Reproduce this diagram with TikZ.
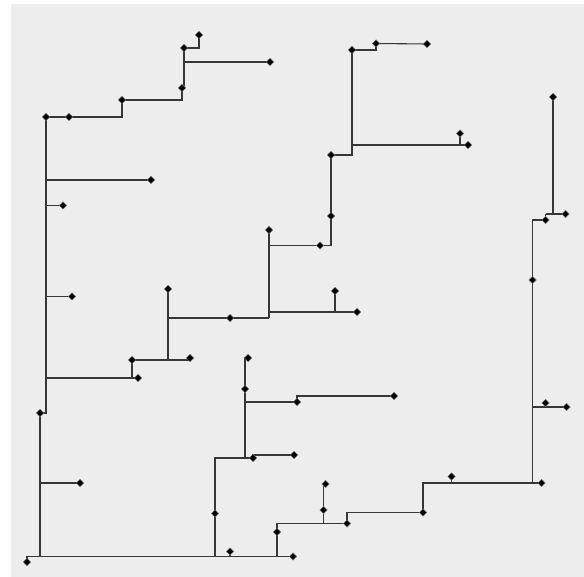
\documentclass[tikz,border=0pt]{standalone}
\usetikzlibrary{shapes.geometric}
\definecolor{bgc}{RGB}{237,237,237}
\definecolor{lnc}{RGB}{55,55,55}
\pgfdeclarelayer{back}
\pgfsetlayers{back,main}
\begin{document}
\begin{tikzpicture}[x=1pt,y=-1pt,
  pt/.style={diamond,fill=black,draw=black!55,line width=0.5pt,inner sep=0pt,minimum size=7.5pt},
  ed/.style={draw=lnc,line width=1.1pt}]
\useasboundingbox (0,0) rectangle (584,577);
\node[pt] (p1) at (199,35) {};
\node[pt] (p2) at (184,48) {};
\node[pt] (p3) at (270,62) {};
\node[pt] (p4) at (182,88) {};
\node[pt] (p5) at (122,100) {};
\node[pt] (p6) at (46,117) {};
\node[pt] (p7) at (69,117) {};
\node[pt] (p8) at (151,180) {};
\node[pt] (p9) at (63,205.5) {};
\node[pt] (p10) at (72,296.5) {};
\node[pt] (p11) at (138,378) {};
\node[pt] (p12) at (132,360) {};
\node[pt] (p13) at (190,358) {};
\node[pt] (p14) at (168,289) {};
\node[pt] (p15) at (230,318) {};
\node[pt] (p16) at (269,230) {};
\node[pt] (p17) at (320,245.5) {};
\node[pt] (p18) at (331,216) {};
\node[pt] (p19) at (331,155) {};
\node[pt] (p20) at (352,50) {};
\node[pt] (p21) at (376,43.5) {};
\node[pt] (p22) at (427,44) {};
\node[pt] (p23) at (460,133.5) {};
\node[pt] (p24) at (468,145) {};
\node[pt] (p25) at (335,291) {};
\node[pt] (p26) at (357,312) {};
\node[pt] (p27) at (553,97) {};
\node[pt] (p28) at (565.5,214) {};
\node[pt] (p29) at (545.5,220) {};
\node[pt] (p30) at (532.5,280) {};
\node[pt] (p31) at (545.5,403) {};
\node[pt] (p32) at (566.5,407) {};
\node[pt] (p33) at (541.5,483) {};
\node[pt] (p34) at (451.5,476.5) {};
\node[pt] (p35) at (423,512.5) {};
\node[pt] (p36) at (347,523.5) {};
\node[pt] (p37) at (325.5,484) {};
\node[pt] (p38) at (323.5,510) {};
\node[pt] (p39) at (293,556.5) {};
\node[pt] (p40) at (277,532) {};
\node[pt] (p41) at (230,551.5) {};
\node[pt] (p42) at (27,562) {};
\node[pt] (p43) at (40,413) {};
\node[pt] (p44) at (80,483) {};
\node[pt] (p45) at (215,513.5) {};
\node[pt] (p46) at (253,458) {};
\node[pt] (p47) at (294,455) {};
\node[pt] (p48) at (245,389) {};
\node[pt] (p49) at (297,402) {};
\node[pt] (p50) at (394,396) {};
\node[pt] (p51) at (248,358) {};
\begin{pgfonlayer}{back}
\fill[bgc] (11,4) rectangle (584,577);
\draw[ed] (p2.center) -| (p1.center);
\draw[ed] (p2.center) -- (p2.center |- p4.center) -- (p4.center) |- (p5.center);
\draw[ed] (p3.center) -| (p2.center);
\draw[ed] (p5.center) |- (p6.center);
\draw[ed] (p6.center) -- (p6.center |- p43.center) -- (p43.center);
\draw[ed] (p8.center) -- (p6.center |- p8.center);
\draw[ed] (p9.center) -- (p6.center |- p9.center);
\draw[ed] (p10.center) -- (p6.center |- p10.center);
\draw[ed] (p6.center |- p11.center) -- (p11.center);
\draw[ed] (p12.center) -- (p12.center |- p11.center);
\draw[ed] (p12.center) -- (p13.center |- p12.center) -- (p13.center);
\draw[ed] (p14.center) -- (p14.center |- p12.center);
\draw[ed] (p14.center |- p15.center) -- (p16.center |- p15.center);
\draw[ed] (p16.center) -- (p16.center |- p15.center);
\draw[ed] (p16.center |- p26.center) -- (p26.center);
\draw[ed] (p25.center) -- (p25.center |- p26.center);
\draw[ed] (p16.center |- p17.center) -- (p19.center |- p17.center) -- (p19.center);
\draw[ed] (p19.center) -| (p20.center);
\draw[ed] (p20.center |- p24.center) -- (p24.center);
\draw[ed] (p23.center) -- (p23.center |- p24.center);
\draw[ed] (p20.center) -| (p21.center);
\draw[ed] (p21.center) -- (p22.center);
\draw[ed] (p27.center) -- (p27.center |- p28.center);
\draw[ed] (p29.center |- p28.center) -- (p28.center);
\draw[ed] (p29.center) -- (p29.center |- p28.center);
\draw[ed] (p29.center) -| (p30.center);
\draw[ed] (p30.center) -- (p30.center |- p33.center) -- (p33.center);
\draw[ed] (p30.center |- p32.center) -- (p32.center);
\draw[ed] (p31.center) -- (p31.center |- p32.center);
\draw[ed] (p30.center |- p33.center) -| (p35.center);
\draw[ed] (p34.center) -- (p34.center |- p33.center);
\draw[ed] (p35.center) -| (p36.center);
\draw[ed] (p36.center) -| (p40.center);
\draw[ed] (p40.center) -- (p40.center |- p39.center);
\draw[ed] (p38.center |- p37.center) -- (p38.center |- p36.center);
\draw[ed] (p37.center) -- (p38.center |- p37.center);
\draw[ed] (p42.center) -- (p42.center |- p39.center) -- (p39.center);
\draw[ed] (p41.center) -- (p41.center |- p39.center);
\draw[ed] (p43.center) -- (p43.center |- p39.center);
\draw[ed] (p43.center |- p44.center) -- (p44.center);
\draw[ed] (p45.center |- p39.center) -- (p45.center |- p46.center) -- (p46.center);
\draw[ed] (p46.center) |- (p47.center);
\draw[ed] (p51.center) -- (p48.center |- p51.center) -- (p48.center |- p46.center);
\draw[ed] (p48.center |- p49.center) -- (p49.center);
\draw[ed] (p49.center) |- (p50.center);
\end{pgfonlayer}
\end{tikzpicture}
\end{document}
